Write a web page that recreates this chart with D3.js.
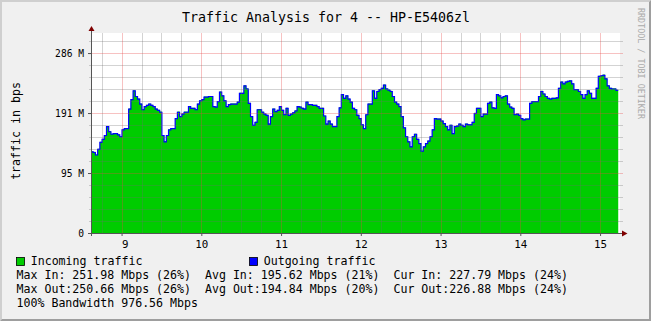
<!DOCTYPE html>
<meta charset="utf-8">
<head>
  <script src="https://d3js.org/d3.v7.min.js"></script>
  <style>
    body { margin: 0; background: #fff; }
    text { font-family: "DejaVu Sans Mono", monospace; white-space: pre; }
  </style>
</head>
<body>
<div id="graph"></div>
<script>
// traffic graph, rrdtool look. values in M (base 1024), one value every 100 s from 08:37
const title = "Traffic Analysis for 4 -- HP-E5406zl";
const yLabel = "traffic in bps";
const watermark = "RRDTOOL / TOBI OETIKER";
const startTime = "2000-01-01T08:37:00";
const endTime = "2000-01-01T15:15:00";
const stepSeconds = 100;
const yMax = 318;
const yTickBps = [0, 1e8, 2e8, 3e8];
const yTickLabels = ["0", "95 M", "191 M", "286 M"];

const incoming = [
  130,129,125,134,145,150,156,170,162,158,
  159,159,157,154,165,167,167,198,213,227,
  218,214,206,197,202,204,206,204,202,198,
  196,193,156,146,156,165,167,167,183,193,
  186,190,193,193,202,199,199,197,206,211,
  213,217,217,218,218,202,201,210,225,219,
  211,202,205,206,206,206,209,223,223,235,
  230,207,186,172,177,197,197,193,190,188,
  174,186,198,194,196,202,196,189,199,188,
  190,192,195,202,201,199,198,209,205,205,
  204,204,202,199,199,187,174,179,174,170,
  170,186,200,221,215,219,214,209,199,197,
  188,183,173,167,189,206,206,227,215,226,
  229,231,236,230,228,226,218,209,206,202,
  186,168,154,146,138,154,158,150,143,131,
  138,143,147,154,165,183,182,182,179,175,
  170,165,172,159,170,171,174,172,170,174,
  173,173,177,191,199,199,186,190,190,207,
  209,200,199,221,219,216,218,219,206,201,
  199,189,190,188,183,181,182,182,207,210,
  210,210,218,226,222,218,215,214,215,215,
  216,231,241,238,241,242,243,238,229,229,
  226,221,215,221,227,223,215,215,231,250,
  251,252,246,235,231,230,230,227.8
];

const outgoing = [
  129,128,124,133,144,149,155,169,161,157,
  158,158,156,153,164,166,166,197,212,226,
  217,213,205,196,201,203,205,203,201,197,
  195,192,155,145,155,164,166,166,182,192,
  185,189,192,192,201,198,198,196,205,210,
  212,216,216,217,217,201,200,209,224,218,
  210,201,204,205,205,205,208,222,222,234,
  229,206,185,171,176,196,196,192,189,187,
  173,185,197,193,195,201,195,188,198,187,
  189,191,194,201,200,198,197,208,204,204,
  203,203,201,198,198,186,173,178,173,169,
  169,185,199,220,214,218,213,208,198,196,
  187,182,172,166,188,205,205,226,214,225,
  228,230,235,229,227,225,217,208,205,201,
  185,167,153,145,137,153,157,149,142,130,
  137,142,146,153,164,182,181,181,178,174,
  169,164,171,158,169,170,173,171,169,173,
  172,172,176,190,198,198,185,189,189,206,
  208,199,198,220,218,215,217,218,205,200,
  198,188,189,187,182,180,181,181,206,209,
  209,209,217,225,221,217,214,213,214,214,
  215,230,240,237,240,241,242,237,228,228,
  225,220,214,220,226,222,214,214,230,249,
  250,250.7,245,234,230,229,229,226.9
];

const legendNames = ["Incoming traffic", "Outgoing traffic"];
const legendColors = ["#00cc00", "#0000ff"];
const statLines = [
  "Max In: 251.98 Mbps (26%)  Avg In: 195.62 Mbps (21%)  Cur In: 227.79 Mbps (24%)",
  "Max Out:250.66 Mbps (26%)  Avg Out:194.84 Mbps (20%)  Cur Out:226.88 Mbps (24%)",
  "100% Bandwidth 976.56 Mbps"
];

const W = 651, H = 321;
const svg = d3.select("#graph").append("svg")
  .attr("width", W).attr("height", H);

// background + 3d frame
svg.append("rect").attr("width", W).attr("height", H).attr("fill", "#f0f0f0");
svg.append("path").attr("fill", "#cfcfcf")
  .attr("d", `M0,0H${W}L${W-2},2H2V${H-2}L0,${H}Z`);
svg.append("path").attr("fill", "#9e9e9e")
  .attr("d", `M${W},0V${H}H0L2,${H-2}H${W-2}V2Z`);

const t0 = new Date(startTime), t1 = new Date(endTime);
const x = d3.scaleTime().domain([t0, t1]).range([91, 620]);
const y = d3.scaleLinear().domain([0, yMax]).range([233, 33]);
const mega = 1048576;
const yTickVals = yTickBps.map(b => b / mega);

// canvas
svg.append("rect")
  .attr("x", x.range()[0]).attr("y", y.range()[1])
  .attr("width", x.range()[1] - x.range()[0])
  .attr("height", y.range()[0] - y.range()[1])
  .attr("fill", "#ffffff");

function toPoints(vals) {
  const pts = vals.map((v, i) => ({t: new Date(t0.getTime() + i * stepSeconds * 1000), v: v}));
  pts.push({t: new Date(t0.getTime() + vals.length * stepSeconds * 1000), v: vals[vals.length - 1]});
  return pts;
}

svg.append("path")
  .datum(toPoints(incoming))
  .attr("fill", "#00cc00")
  .attr("d", d3.area().curve(d3.curveStepAfter)
    .x(d => x(d.t)).y0(y(0)).y1(d => y(d.v)));

svg.append("path")
  .datum(toPoints(outgoing))
  .attr("fill", "none")
  .attr("stroke", "#0000ff")
  .attr("stroke-width", 1.2)
  .attr("d", d3.line().curve(d3.curveStepAfter)
    .x(d => x(d.t)).y(d => y(d.v)));

// grid on top of the data
const minorCol = "rgba(110,110,110,0.3)", majorCol = "rgba(230,70,70,0.33)";
const xMinor = d3.timeMinute.every(15).range(t0, t1).filter(d => d.getMinutes() != 0);
const xMajor = d3.timeHour.range(t0, t1);
const yMinor = d3.range(1, 17).filter(i => i % 5 != 0).map(i => i * 2e7 / mega);
const yMajor = yTickVals.slice(1);
const px = v => Math.round(v) + 0.5;

const grid = svg.append("g").attr("stroke-width", 1);
grid.selectAll("line.vmin").data(xMinor).join("line").attr("class", "vmin")
  .attr("x1", d => px(x(d))).attr("x2", d => px(x(d)))
  .attr("y1", y.range()[1]).attr("y2", y.range()[0])
  .attr("stroke", minorCol);
grid.selectAll("line.hmin").data(yMinor).join("line").attr("class", "hmin")
  .attr("x1", 89).attr("x2", 623)
  .attr("y1", d => px(y(d))).attr("y2", d => px(y(d)))
  .attr("stroke", minorCol);
grid.selectAll("line.vmaj").data(xMajor).join("line").attr("class", "vmaj")
  .attr("x1", d => px(x(d))).attr("x2", d => px(x(d)))
  .attr("y1", y.range()[1]).attr("y2", y.range()[0])
  .attr("stroke", majorCol);
grid.selectAll("line.hmaj").data(yMajor).join("line").attr("class", "hmaj")
  .attr("x1", 89).attr("x2", 623)
  .attr("y1", d => px(y(d))).attr("y2", d => px(y(d)))
  .attr("stroke", majorCol);

// axes
const xAxis = svg.append("g")
  .attr("transform", `translate(0,${y(0)})`)
  .call(d3.axisBottom(x).tickValues(xMajor).tickFormat(d3.timeFormat("%_H"))
    .tickSize(3).tickPadding(4));
const yAxis = svg.append("g")
  .attr("transform", `translate(${x.range()[0]},0)`)
  .call(d3.axisLeft(y).tickValues(yTickVals)
    .tickFormat(d => yTickLabels[yTickVals.indexOf(d)]).tickSize(3).tickPadding(4));
[xAxis, yAxis].forEach(g => {
  g.select(".domain").remove();
  g.selectAll("line").attr("stroke", "#555");
  g.selectAll("text").attr("fill", "#000").attr("font-family", "DejaVu Sans Mono");
});
xAxis.selectAll("text").attr("font-size", "10.8px");
yAxis.selectAll("text").attr("font-size", "9.6px");

svg.append("line").attr("x1", 89).attr("x2", 623)
  .attr("y1", y(0) + 0.5).attr("y2", y(0) + 0.5).attr("stroke", "#555");
svg.append("line").attr("x1", x.range()[0] + 0.5).attr("x2", x.range()[0] + 0.5)
  .attr("y1", y(0) + 3).attr("y2", 29).attr("stroke", "#555");
svg.append("path").attr("fill", "#7f0000")
  .attr("d", `M${x.range()[0] - 2.5},31L${x.range()[0] + 0.5},26L${x.range()[0] + 3.5},31Z`);
svg.append("path").attr("fill", "#7f0000")
  .attr("d", `M622,${y(0) - 2.5}L627.5,${y(0) + 0.5}L622,${y(0) + 3.5}Z`);

// texts
svg.append("text").attr("x", 326).attr("y", 22)
  .attr("text-anchor", "middle").attr("font-size", "13.3px").text(title);
svg.append("text").attr("transform", "translate(19.5,131) rotate(-90)")
  .attr("text-anchor", "middle").attr("font-size", "11.6px").text(yLabel);
svg.append("text").attr("transform", "translate(637.5,8) rotate(90)")
  .attr("font-size", "8.4px").attr("fill", "#aaaaaa").text(watermark);

// legend
const legX = [16.5, 249.5];
legendNames.forEach((n, i) => {
  svg.append("rect").attr("x", legX[i]).attr("y", 257.5)
    .attr("width", 8).attr("height", 8)
    .attr("fill", legendColors[i]).attr("stroke", "#000").attr("stroke-width", 0.8);
  svg.append("text").attr("x", legX[i] + 14.2).attr("y", 265.3)
    .attr("font-size", "11.6px").text(n);
});
statLines.forEach((s, i) => {
  svg.append("text").attr("x", 16.5).attr("y", 279.2 + i * 13.8)
    .attr("font-size", "11.6px").text(s);
});
</script>
</body>
